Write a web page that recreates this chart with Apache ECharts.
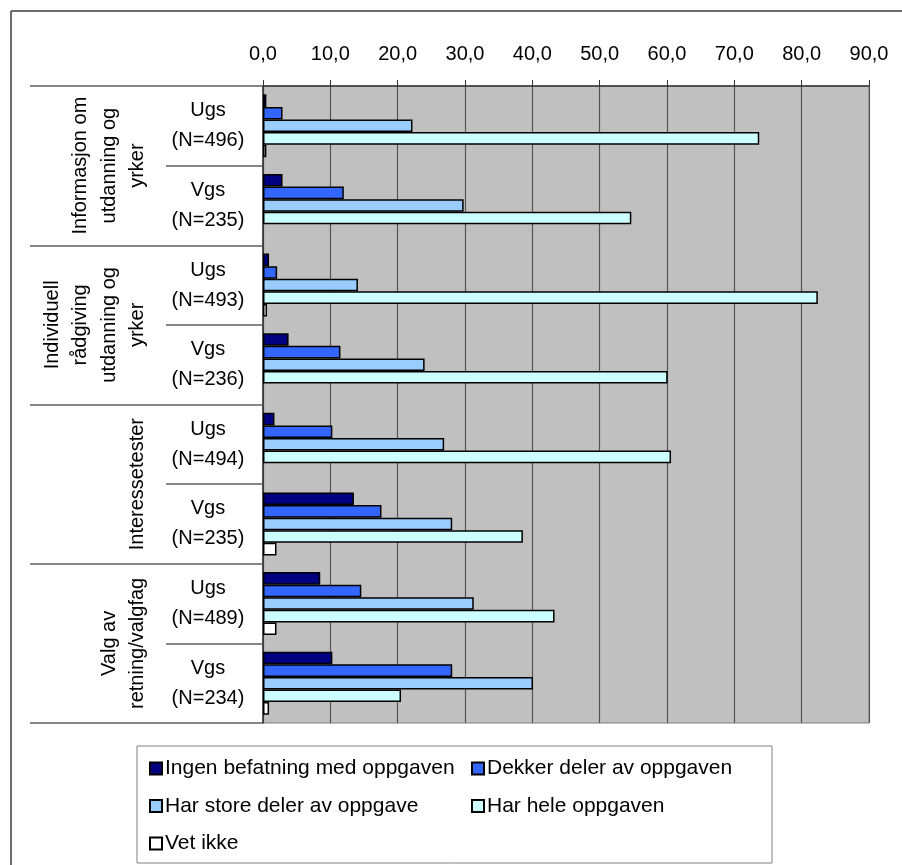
<!DOCTYPE html>
<html>
<head>
<meta charset="utf-8">
<script src="https://cdn.jsdelivr.net/npm/echarts@6/dist/echarts.min.js"></script>
<style>
  html, body { margin: 0; padding: 0; background: #fff; }
  #chart { width: 902px; height: 865px; }
</style>
</head>
<body>
<div id="chart"></div>
<script>
// Question groups (outer category level)
const groups = [
  'Informasjon om\nutdanning og\nyrker',
  'Individuell\nrådgiving\nutdanning og\nyrker',
  'Interessetester',
  'Valg av\nretning/valgfag'
];
// School level and number of respondents (inner category level)
const levels = ['Ugs', 'Vgs', 'Ugs', 'Vgs', 'Ugs', 'Vgs', 'Ugs', 'Vgs'];
const respondents = [496, 235, 493, 236, 494, 235, 489, 234];

// Share (%) per answer
const seriesNames = [
  'Ingen befatning med oppgaven',
  'Dekker deler av oppgaven',
  'Har store deler av oppgave',
  'Har hele oppgaven',
  'Vet ikke'
];
const ingenBefatning = [0.5, 2.9, 0.9, 3.8, 1.7, 13.5, 8.5, 10.3];
const dekkerDeler    = [2.9, 12.0, 2.1, 11.5, 10.3, 17.6, 14.6, 28.1];
const storeDeler     = [22.2, 29.8, 14.1, 24.0, 26.9, 28.1, 31.3, 40.1];
const heleOppgaven   = [73.7, 54.7, 82.4, 60.1, 60.6, 38.6, 43.3, 20.5];
const vetIkke        = [0.5, 0, 0.6, 0, 0, 2.0, 2.0, 0.9];

// Value axis ticks
const xTicks = [0, 10, 20, 30, 40, 50, 60, 70, 80, 90];

const colors = ['#000080', '#3366ff', '#99ccff', '#ccffff', '#ffffff'];
const FONT = '"Liberation Sans", Arial, sans-serif';

const categories = levels.map((l, i) => l + '\n(N=' + respondents[i] + ')');
const allValues = [ingenBefatning, dekkerDeler, storeDeler, heleOppgaven, vetIkke];

const chart = echarts.init(document.getElementById('chart'), null, { renderer: 'canvas' });

const gridLeft = 263, gridTop = 86, gridW = 606, gridH = 637;

const legendText = { fontSize: 21, lineHeight: 20, color: '#000', fontFamily: FONT, padding: [0, 0, 0, -2] };

const option = {
  animation: false,
  backgroundColor: '#ffffff',
  textStyle: { fontFamily: FONT },
  grid: {
    left: gridLeft, top: gridTop, width: gridW, height: gridH,
    show: true, backgroundColor: '#c0c0c0', borderColor: '#808080', borderWidth: 1
  },
  xAxis: {
    type: 'value',
    position: 'top',
    min: xTicks[0],
    max: xTicks[xTicks.length - 1],
    interval: xTicks[1] - xTicks[0],
    axisLine: { show: true, lineStyle: { color: '#333', width: 1.5 } },
    axisTick: { show: true, inside: false, length: 6, lineStyle: { color: '#333', width: 1 } },
    splitLine: { show: true, lineStyle: { color: '#555', width: 1.2 } },
    axisLabel: {
      margin: 22,
      fontSize: 20,
      color: '#000',
      fontFamily: FONT,
      formatter: v => v.toFixed(1).replace('.', ',')
    }
  },
  yAxis: [
    {
      type: 'category',
      data: categories,
      inverse: true,
      position: 'left',
      axisLine: { show: true, lineStyle: { color: '#333', width: 1.5 } },
      axisTick: { show: true, interval: 0, length: 97, lineStyle: { color: '#5f5f5f', width: 1.5 } },
      axisLabel: {
        interval: 0,
        margin: 55,
        align: 'center',
        fontSize: 20,
        lineHeight: 30,
        color: '#000',
        fontFamily: FONT
      }
    },
    {
      type: 'category',
      data: groups,
      inverse: true,
      position: 'left',
      axisLine: { show: false },
      axisTick: { show: true, interval: 0, length: 233, lineStyle: { color: '#5f5f5f', width: 1.5 } },
      axisLabel: {
        interval: 0,
        hideOverlap: false,
        rotate: 90,
        margin: 111,
        align: 'center',
        verticalAlign: 'bottom',
        fontSize: 20,
        lineHeight: 28.5,
        color: '#000',
        fontFamily: FONT
      }
    }
  ],
  legend: [
    {
      orient: 'vertical',
      left: 144, top: 753,
      itemWidth: 12, itemHeight: 12, itemGap: 16.5,
      icon: 'rect',
      data: [seriesNames[0], seriesNames[2], seriesNames[4]],
      textStyle: legendText,
      selectedMode: false
    },
    {
      orient: 'vertical',
      left: 466, top: 753,
      itemWidth: 12, itemHeight: 12, itemGap: 16.5,
      icon: 'rect',
      data: [seriesNames[1], seriesNames[3]],
      textStyle: legendText,
      selectedMode: false
    }
  ],
  series: seriesNames.map((name, i) => ({
    name: name,
    type: 'bar',
    xAxisIndex: 0,
    yAxisIndex: 0,
    data: allValues[i].map(v => (v === 0 ? '-' : v)),
    barGap: '0%',
    barCategoryGap: '21%',
    itemStyle: { color: colors[i], borderColor: '#000', borderWidth: 1.5 }
  })),
  graphic: [
    // outer chart frame
    { type: 'line', shape: { x1: 11, y1: 11, x2: 902, y2: 11 }, style: { stroke: '#3c3c3c', lineWidth: 1.5 } },
    { type: 'line', shape: { x1: 11, y1: 11, x2: 11, y2: 865 }, style: { stroke: '#3c3c3c', lineWidth: 1.5 } },
    // legend frame
    { type: 'rect', shape: { x: 137, y: 746, width: 635, height: 117 }, style: { fill: 'none', stroke: '#808080', lineWidth: 1 }, z: -1 }
  ]
};

chart.setOption(option);
</script>
</body>
</html>
